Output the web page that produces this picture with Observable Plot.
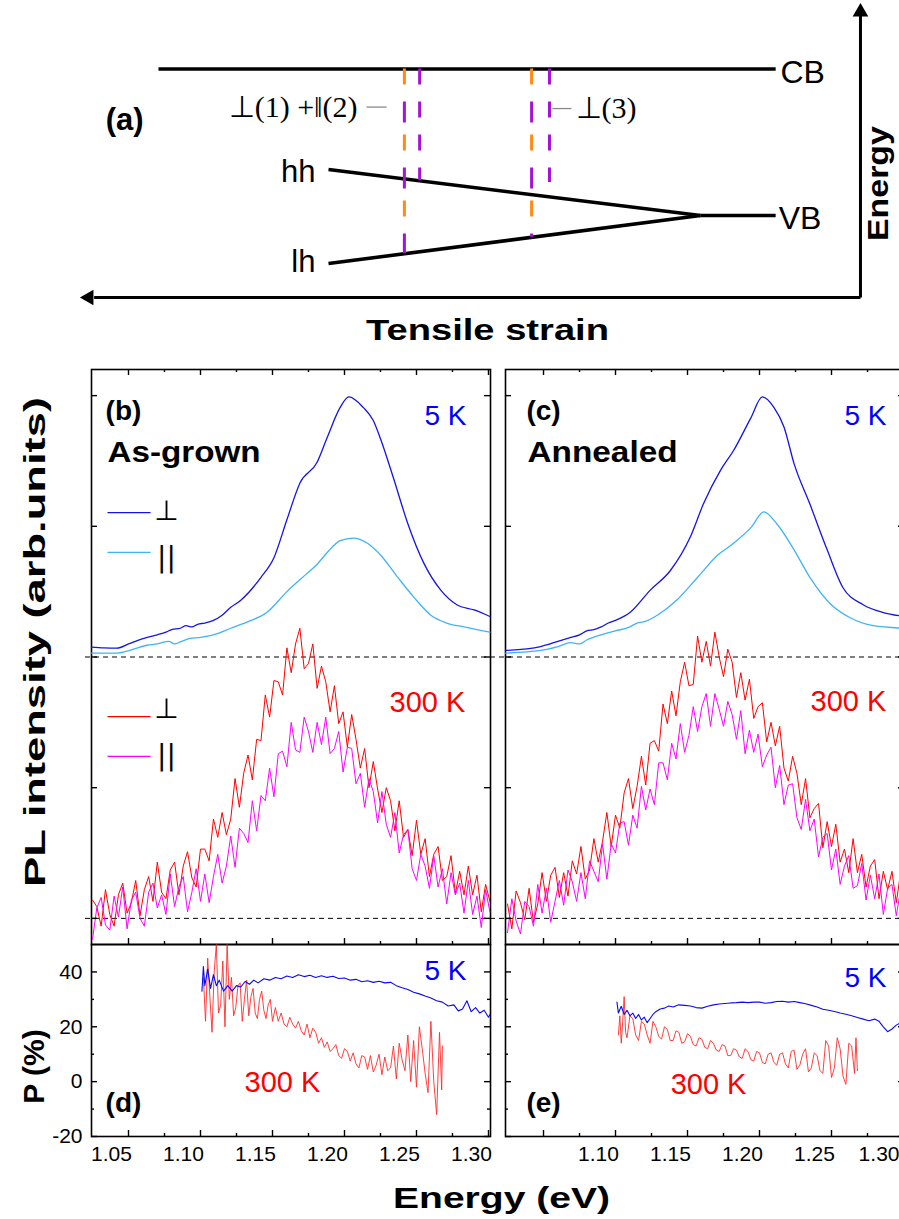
<!DOCTYPE html>
<html>
<head>
<meta charset="utf-8">
<script src="https://cdn.jsdelivr.net/npm/d3@7"></script>
<script src="https://cdn.jsdelivr.net/npm/@observablehq/plot@0.6"></script>
<style>
  html, body { margin: 0; padding: 0; background: #fff; }
  #fig { position: relative; width: 899px; height: 1219px; overflow: hidden; background: #fff; }
</style>
</head>
<body>
<div id="fig"></div>
<script>
// ---------------- ticks / categories ----------------
const xMajor = [1.05, 1.10, 1.15, 1.20, 1.25, 1.30];
const xMinor = [1.075, 1.125, 1.175, 1.225, 1.275];
const iTicks = [0, 1, 2, 3, 4];
const pMajor = [-20, 0, 20, 40];
const pMinor = [-10, 10, 30];
const xLabelsD = [1.05, 1.10, 1.15, 1.20, 1.25, 1.30];
const xLabelsE = [1.10, 1.15, 1.20, 1.25];
const xLabelsEEdge = [1.30];
const OFFSET_5K = 2; // 5 K spectra stacked above the 300 K spectra

// ---------------- panel (b): 5 K spectra (as-grown) ----------------
const E5b_perp = [1.0243,1.033,1.042,1.050,1.057,1.063,1.070,1.076,1.080,1.086,1.090,1.094,1.098,1.103,1.109,1.115,1.121,1.128,1.142,1.151,1.160,1.169,1.181,1.188,1.197,1.203,1.213,1.220,1.225,1.234,1.244,1.255,1.267,1.278,1.290,1.301];
const I5b_perp = [0.076,0.07,0.068,0.10,0.13,0.15,0.17,0.19,0.21,0.22,0.24,0.23,0.25,0.26,0.28,0.32,0.38,0.435,0.61,0.76,1.05,1.33,1.49,1.68,1.91,1.99,1.91,1.81,1.67,1.37,1.02,0.72,0.51,0.40,0.36,0.31];
const E5b_par = [1.0243,1.042,1.063,1.070,1.078,1.082,1.086,1.092,1.100,1.109,1.121,1.133,1.146,1.160,1.174,1.181,1.188,1.197,1.206,1.216,1.225,1.237,1.248,1.260,1.271,1.283,1.301];
const I5b_par = [0.03,0.03,0.09,0.10,0.12,0.10,0.115,0.14,0.15,0.17,0.22,0.27,0.34,0.50,0.64,0.71,0.80,0.89,0.91,0.87,0.78,0.61,0.46,0.32,0.26,0.23,0.19];

// ---------------- panel (c): 5 K spectra (annealed) ----------------
const E5c_perp = [1.0236,1.048,1.060,1.069,1.075,1.080,1.085,1.090,1.095,1.100,1.110,1.124,1.138,1.152,1.161,1.173,1.182,1.194,1.202,1.210,1.217,1.224,1.235,1.247,1.258,1.272,1.286,1.301];
const I5c_perp = [0.05,0.08,0.12,0.15,0.17,0.20,0.21,0.23,0.26,0.28,0.34,0.51,0.66,0.92,1.17,1.43,1.58,1.83,1.99,1.91,1.76,1.48,1.17,0.82,0.53,0.40,0.34,0.31];
const E5c_par = [1.0236,1.048,1.060,1.069,1.075,1.080,1.090,1.100,1.110,1.115,1.120,1.129,1.143,1.157,1.171,1.182,1.194,1.203,1.212,1.224,1.235,1.249,1.263,1.279,1.301];
const I5c_par = [0.03,0.05,0.08,0.11,0.10,0.13,0.17,0.20,0.23,0.26,0.27,0.32,0.44,0.61,0.78,0.87,0.99,1.11,1.02,0.82,0.61,0.41,0.30,0.24,0.22];

// ---------------- 300 K spectra (read on a 3 meV grid) ----------------
const E300 = d3.range(93).map(i => +(1.025 + 0.003 * i).toFixed(3));
const I300b_perp = [0.14,0.09,-0.06,0.22,0.03,-0.06,0.18,0.27,0.04,0.12, 0.29,0.02,0.22,0.32,0.13,0.43,0.20,0.15,0.37,0.43, 0.18,0.40,0.51,0.31,0.24,0.53,0.53,0.44,0.76,0.62, 0.81,0.64,0.76,1.07,0.85,1.11,1.25,1.06,1.37,1.36, 1.71,1.54,1.82,1.81,1.71,2.07,1.88,2.10,2.22,1.91, 1.95,2.10,1.76,1.93,1.81,1.58,1.78,1.49,1.58,1.31, 1.56,1.37,1.15,1.30,1.00,1.20,0.99,0.81,1.00,0.90, 0.67,0.90,0.62,0.68,0.48,0.75,0.49,0.61,0.32,0.49, 0.55,0.29,0.32,0.48,0.19,0.36,0.18,0.40,0.18,0.33, 0.05,0.26,0.13];
const I300b_par = [-0.16,0.08,0.16,-0.05,-0.09,0.17,0.01,0.24,-0.08,0.14, 0.20,0.00,-0.06,0.20,0.27,0.08,0.18,0.03,0.34,0.09, 0.24,0.32,0.05,0.20,0.38,0.13,0.34,0.12,0.32,0.49, 0.27,0.40,0.63,0.39,0.69,0.65,0.58,0.90,0.67,0.94, 0.90,1.15,0.93,1.26,1.28,1.16,1.50,1.29,1.27,1.54, 1.43,1.27,1.50,1.33,1.54,1.26,1.30,1.43,1.12,1.31, 1.30,1.03,1.11,0.85,1.07,0.97,0.73,0.97,0.72,0.62, 0.81,0.50,0.64,0.68,0.38,0.29,0.49,0.40,0.23,0.48, 0.24,0.38,0.11,0.35,0.18,0.27,0.04,0.29,0.03,0.17, -0.07,0.22,0.05];
const I300c_perp = [0.11,-0.08,0.21,0.12,-0.01,0.23,-0.03,0.11,0.35,0.13, 0.33,0.39,0.16,0.35,0.17,0.44,0.34,0.55,0.30,0.37, 0.61,0.43,0.59,0.81,0.55,0.79,0.69,0.96,1.07,0.84, 1.01,1.24,1.02,1.34,1.36,1.28,1.64,1.49,1.74,1.55, 1.81,1.96,1.78,1.79,2.16,1.96,2.12,1.93,2.19,2.00, 1.85,2.06,1.96,1.69,1.88,1.67,1.83,1.53,1.62,1.65, 1.35,1.50,1.32,1.47,1.15,1.05,1.24,1.11,0.87,1.07, 0.77,0.84,0.88,0.54,0.74,0.55,0.72,0.43,0.53,0.35, 0.61,0.35,0.49,0.24,0.40,0.45,0.15,0.36,0.22,0.36, 0.12,0.35,0.13];
const I300c_par = [-0.11,0.15,-0.02,-0.12,0.13,0.09,-0.06,0.26,0.04,0.23, -0.03,0.13,0.29,0.10,0.37,0.28,0.13,0.35,0.15,0.44, 0.36,0.28,0.57,0.30,0.57,0.50,0.73,0.74,0.56,0.79, 0.69,1.01,0.83,0.99,0.87,1.19,1.19,1.06,1.34,1.22, 1.49,1.27,1.40,1.62,1.43,1.62,1.72,1.47,1.72,1.60, 1.47,1.66,1.56,1.37,1.59,1.26,1.44,1.27,1.41,1.16, 1.25,1.31,1.00,1.17,0.87,1.02,1.03,0.77,0.68,0.91, 0.67,0.76,0.47,0.62,0.65,0.37,0.53,0.26,0.40,0.48, 0.23,0.25,0.42,0.14,0.33,0.15,0.34,0.03,0.23,0.26, 0.02,0.22,0.08];

// ---------------- panel (d): polarization degree, as-grown ----------------
const EPd_5K = [1.101,1.102,1.103,1.105,1.107,1.109,1.111,1.113,1.116,1.119, 1.122,1.125,1.128,1.131,1.134,1.137,1.140,1.144,1.148,1.152, 1.156,1.160,1.164,1.168,1.172,1.176,1.180,1.184,1.188,1.192, 1.196,1.200,1.204,1.208,1.212,1.216,1.220,1.224,1.228,1.232, 1.236,1.240,1.244,1.248,1.252,1.256,1.260,1.264,1.268,1.272, 1.276,1.279,1.282,1.285,1.288,1.291,1.294,1.297,1.300,1.301];
const Pd_5K = [33,42,35,41,34,39,35,37,33,35, 33,35,34.5,36.5,35.5,37,36,37.5,37,38, 37.5,38.5,38,39,38.3,38.8,38,38.6,38,38.4, 37.6,37.8,37,37.3,36.4,36.8,36.2,36.6,36,36.2, 35,34.2,33.6,32.6,32,31.2,30.5,29.5,29,27.6, 28,25.8,26.5,29.5,25.5,27,25,26,23.5,24.5];
const EPd_300 = [1.1020,1.1035,1.1050,1.1065,1.1080,1.1095,1.1110,1.1125,1.1140,1.1155, 1.1170,1.1185,1.1200,1.1215,1.1230,1.1245,1.1260,1.1275,1.1290,1.1305, 1.1320,1.1335,1.1350,1.1365,1.1380,1.1395,1.1410,1.1425,1.1440,1.1455, 1.1470,1.1485,1.1500,1.1520,1.1540,1.1560,1.1580,1.1600,1.1620,1.1640, 1.1660,1.1680,1.1700,1.1720,1.1740,1.1760,1.1780,1.1800,1.1820,1.1840, 1.1860,1.1880,1.1900,1.1920,1.1940,1.1960,1.1980,1.2000,1.2020,1.2040, 1.2060,1.2080,1.2100,1.2120,1.2140,1.2160,1.2180,1.2200,1.2220,1.2240, 1.2260,1.2280,1.2300,1.2320,1.2340,1.2360,1.2380,1.2400,1.2420,1.2440, 1.2460,1.2480,1.2500,1.2520,1.2540,1.2560,1.2580,1.2600,1.2620,1.2640, 1.2660,1.2675,1.2680];
const Pd_300 = [38,22,45,31,18,40,50,25,28,44, 20,50,30,38,24,27,35,36,22,30, 37,24,31,34,25,23,30,33,26,23, 28,30,22,27,22,25,21,20,23.5,21, 19.5,22,18.5,17,21,16,19.5,18,14,16, 12.5,14.5,11,12,13.5,9.5,8.5,12,11,7.5, 10.5,6.5,5,9.5,9,4.5,9.5,3.5,6,10, 2.5,9,4,5,13,1,14,8,4,17, 0,15,-2,20,12,3,-4,22,0,-12, 18,-3,13];

// ---------------- panel (e): polarization degree, annealed ----------------
const EPe_5K = [1.101,1.102,1.104,1.106,1.108,1.110,1.112,1.114,1.116,1.118, 1.120,1.122,1.124,1.126,1.128,1.131,1.134,1.137,1.140,1.144, 1.148,1.152,1.156,1.160,1.164,1.168,1.172,1.176,1.180,1.184, 1.188,1.192,1.196,1.200,1.204,1.208,1.212,1.216,1.220,1.224, 1.228,1.232,1.236,1.240,1.244,1.248,1.252,1.256,1.260,1.264, 1.268,1.272,1.276,1.280,1.283,1.286,1.289,1.292,1.295,1.298, 1.301];
const Pe_5K = [29,25,27.5,24.5,26,24,25,23,24.5,22.5, 23.5,21.5,23,24.5,25.5,26.5,26.8,27.6,27.2,28, 27.8,27.6,27,26.8,27.5,28,28.3,28.5,28.7,28.8, 29,28.8,29,29,28.6,28.8,29.2,29.3,29,29.2, 28.8,28.4,27.8,27.2,26.4,26,25.6,25,24.6,24, 23.4,22.8,22.2,22.8,22,20,18.2,19.2,20.6,21.5, 22];
const EPe_300 = [1.102,1.103,1.104,1.105,1.106,1.107,1.108,1.110,1.112,1.114, 1.116,1.118,1.120,1.122,1.124,1.126,1.128,1.130,1.132,1.134, 1.136,1.138,1.140,1.142,1.144,1.146,1.148,1.150,1.152,1.154, 1.156,1.158,1.160,1.162,1.164,1.166,1.168,1.170,1.172,1.174, 1.176,1.178,1.180,1.182,1.184,1.186,1.188,1.190,1.192,1.194, 1.196,1.198,1.200,1.202,1.204,1.206,1.208,1.210,1.212,1.214, 1.216,1.218,1.220,1.222,1.224,1.226,1.228,1.230,1.232,1.234, 1.236,1.238,1.240,1.242,1.244,1.246,1.248,1.250,1.252,1.254, 1.256,1.258,1.260,1.262,1.264,1.266,1.267,1.268];
const Pe_300 = [17,24,14,22,31,18,16,24,23,17, 15,22,21,17,14,22,20,16.5,15.5,20, 19,15,15,18.5,18,14,14.5,17.5,16.5,13.5, 13,16,15.5,12.5,12,15,14,11.5,11,13.5, 13,9.5,9.5,12,11.5,9,8.5,12,11,8, 7.5,11,10.5,7,6.5,10,10.5,7,6,10, 10.5,6.5,5,11,11.5,4.5,6,10,12,3.5, 5,10.5,9.5,4,3,15,13,1.5,5,16, 12,2,-1,14,13,3,16,4];

// ---------------- panel (a): schematic (strain s, 0 = band crossing; energy E, 0 = VB) ----------------
const bandNames = ["CB", "hh", "lh", "VB"];
const bandS1 = [14.57, 10, 10, 0];
const bandE1 = [10, 3.14, -3.28, 0];
const bandS2 = [-2.02, 0, 0, -2.02];
const bandE2 = [10, 0, 0, 0];
const mixedS = [7.96, 4.54];          // orange + purple transitions CB -> lh
const mixedBottom = [-2.61, -1.49];
const purpleS = [7.55, 4.06];         // purple transitions CB -> hh
const purpleBottom = [2.37, 2.25];
const CB_E = 10;

// ---------------- colours ----------------
const C = {
  perp5: "#1414e6", par5: "#3fb3f7", perp300: "#ff0000", par300: "#ff00ff",
  blue: "#0000ff", red: "#ff0000", P5: "#0a0af0", P300: "#ff2b2b",
  orange: "#ff8a14", purple: "#a312d6"
};

const rows = (xs, ys) => xs.map((E, i) => ({E, v: ys[i]}));
const FONT = "'Liberation Sans', Arial, Helvetica, sans-serif";
const SERIF = "'Liberation Serif', 'Times New Roman', serif";
const place = (left, top) =>
  `position:absolute;left:${left}px;top:${top}px;overflow:visible;background:transparent;font-family:${FONT};`;

const stretchTo = {
  "PL intensity (arb.units)": 490, "Energy (eV)": 217, "Tensile strain": 243,
  "Energy": 115, "As-grown": 153, "Annealed": 150
};
function stretch(svg) {
  svg.querySelectorAll("text").forEach(t => {
    const w = stretchTo[t.textContent];
    if (w) { t.setAttribute("textLength", w); t.setAttribute("lengthAdjust", "spacingAndGlyphs"); }
  });
  return svg;
}
// one text mark per label so anchor / weight / colour can differ
const labels = (list, xk, yk) => list.map(d => Plot.text([d], {
  x: xk, y: yk, text: "t", textAnchor: d.a, lineAnchor: "middle",
  fontSize: d.size, fontWeight: d.w, fill: d.c || "black",
  fontFamily: d.f || FONT, rotate: d.r || 0
}));

function frameTicks(W, H, {yMaj, yMin = [], top = true}) {
  const sw = 1.4, L = 6, l = 3;
  const m = [
    Plot.tickX(xMajor, {x: d => d, insetTop: H - L, strokeWidth: sw}),
    Plot.tickX(xMinor, {x: d => d, insetTop: H - l, strokeWidth: sw}),
    Plot.tickY(yMaj, {y: d => d, insetRight: W - L, strokeWidth: sw}),
    Plot.tickY(yMaj, {y: d => d, insetLeft: W - L, strokeWidth: sw})
  ];
  if (yMin.length) {
    m.push(Plot.tickY(yMin, {y: d => d, insetRight: W - l, strokeWidth: sw}));
    m.push(Plot.tickY(yMin, {y: d => d, insetLeft: W - l, strokeWidth: sw}));
  }
  if (top) {
    m.push(Plot.tickX(xMajor, {x: d => d, insetBottom: H - L, strokeWidth: sw}));
    m.push(Plot.tickX(xMinor, {x: d => d, insetBottom: H - l, strokeWidth: sw}));
  }
  return m;
}

const fig = document.getElementById("fig");
const W = 399, HS = 575, HP = 192;
const xDomL = [1.0243, 1.3014], xDomR = [1.0236, 1.3007];

// ---------- panel (a) ----------
const bands = bandNames.map((n, i) => ({n, s1: bandS1[i], E1: bandE1[i], s2: bandS2[i], E2: bandE2[i]}));
const mixed = mixedS.map((s, i) => ({s, top: CB_E, bottom: mixedBottom[i]}));
const purples = purpleS.map((s, i) => ({s, top: CB_E, bottom: purpleBottom[i]}));
const axisLines = [
  {s1: -4.30, E1: -5.60, s2: 16.30, E2: -5.60},   // tensile strain axis
  {s1: -4.30, E1: -5.60, s2: -4.30, E2: 13.70}    // energy axis
];
const axisHeads = [
  {s: 16.44, E: -5.60, rot: -90},
  {s: -4.30, E: 13.89, rot: 0}
];
const leaders = [{s1: 8.98, s2: 8.44, E: 7.40}, {s1: 3.98, s2: 3.47, E: 7.30}];
const aTexts = [
  {t: "CB", s: -2.15, E: 9.76, a: "start", size: 32, w: "normal"},
  {t: "VB", s: -2.10, E: -0.20, a: "start", size: 32, w: "normal"},
  {t: "hh", s: 10.35, E: 2.94, a: "end", size: 31, w: "normal"},
  {t: "lh", s: 10.35, E: -3.21, a: "end", size: 31, w: "normal"},
  {t: "(a)", s: 15.48, E: 6.48, a: "middle", size: 31, w: "bold"},
  {t: "Tensile strain", s: 5.726, E: -7.85, a: "middle", size: 30, w: "bold"},
  {t: "Energy", s: -4.785, E: 2.18, a: "middle", size: 30, w: "bold", r: -90},
  {t: "⊥(1) +‖(2)", s: 9.22, E: 7.37, a: "end", size: 30, w: "normal", f: SERIF},
  {t: "⊥(3)", s: 3.36, E: 7.30, a: "start", size: 30, w: "normal", f: SERIF}
];

const plotA = Plot.plot({
  width: 899, height: 350, margin: 0, style: place(0, 0),
  x: {domain: [18.817, -5.349], axis: null},
  y: {domain: [-9.215, 14.676], axis: null},
  marks: [
    Plot.link(bands, {x1: "s1", y1: "E1", x2: "s2", y2: "E2", stroke: "black", strokeWidth: 3.6}),
    Plot.ruleX(mixed, {x: "s", y1: "top", y2: "bottom", stroke: C.orange, strokeWidth: 3, strokeDasharray: "16,50"}),
    Plot.ruleX(mixed, {x: "s", y1: "top", y2: "bottom", stroke: C.purple, strokeWidth: 3, strokeDasharray: "21,45", strokeDashoffset: 33}),
    Plot.ruleX(purples, {x: "s", y1: "top", y2: "bottom", stroke: C.purple, strokeWidth: 3, strokeDasharray: "16,17"}),
    Plot.link(axisLines, {x1: "s1", y1: "E1", x2: "s2", y2: "E2", stroke: "black", strokeWidth: 3}),
    Plot.dot(axisHeads, {x: "s", y: "E", symbol: "triangle", r: 5.8, fill: "black", stroke: "none", rotate: "rot"}),
    Plot.link(leaders, {x1: "s1", x2: "s2", y1: "E", y2: "E", stroke: "#8a8a8a", strokeWidth: 1.3}),
    ...labels(aTexts, "s", "E")
  ]
});
fig.append(stretch(plotA));

// ---------- spectra panels (b), (c) ----------
function spectra({left, xDomain, perp5, par5, perp300, par300, texts, legend, yLabel}) {
  const marks = [
    Plot.frame({stroke: "black", strokeWidth: 1.6}),
    Plot.ruleY([0, OFFSET_5K], {y: d => d, stroke: "black", strokeWidth: 1, strokeDasharray: "5,4", insetLeft: -6, insetRight: -6}),
    Plot.line(perp300, {x: "E", y: "v", stroke: C.perp300, strokeWidth: 1}),
    Plot.line(par300, {x: "E", y: "v", stroke: C.par300, strokeWidth: 1}),
    Plot.line(par5, {x: "E", y: d => d.v + OFFSET_5K, stroke: C.par5, strokeWidth: 1.3, curve: "monotone-x"}),
    Plot.line(perp5, {x: "E", y: d => d.v + OFFSET_5K, stroke: C.perp5, strokeWidth: 1.3, curve: "monotone-x"}),
    ...frameTicks(W, HS, {yMaj: iTicks}),
    ...labels(texts, "E", "y")
  ];
  if (legend) {
    marks.push(Plot.link(legend, {x1: "E1", x2: "E2", y1: "y", y2: "y", stroke: "c", strokeWidth: 1.3}));
    marks.push(Plot.text(legend, {x: "Es", y: "ys", text: "sym", fontSize: 28, lineAnchor: "middle", fontFamily: "'DejaVu Sans', sans-serif"}));
  }
  if (yLabel) {
    marks.push(Plot.text([yLabel], {frameAnchor: "left", dx: -56, dy: -15, rotate: -90, text: d => d, textAnchor: "middle", lineAnchor: "middle", fontSize: 30, fontWeight: "bold"}));
  }
  return Plot.plot({
    width: W, height: HS, margin: 0, style: place(left, 369),
    x: {domain: xDomain, axis: null},
    y: {domain: [-0.2, 4.2], axis: null},
    marks
  });
}

const legendB = [
  {E1: 1.0354, E2: 1.0653, y: 3.105, c: C.perp5, Es: 1.0764, ys: 3.12, sym: "⊥"},
  {E1: 1.0354, E2: 1.0653, y: 2.80, c: C.par5, Es: 1.0764, ys: 2.76, sym: "||"},
  {E1: 1.0354, E2: 1.0653, y: 1.544, c: C.perp300, Es: 1.0764, ys: 1.60, sym: "⊥"},
  {E1: 1.0354, E2: 1.0653, y: 1.239, c: C.par300, Es: 1.0764, ys: 1.24, sym: "||"}
];
const textsB = [
  {t: "(b)", E: 1.0465, y: 3.885, a: "middle", size: 28, w: "bold"},
  {t: "As-grown", E: 1.0354, y: 3.564, a: "start", size: 30, w: "bold"},
  {t: "5 K", E: 1.2701, y: 3.847, a: "middle", size: 28, w: "normal", c: C.blue},
  {t: "300 K", E: 1.2576, y: 1.652, a: "middle", size: 29, w: "normal", c: C.red}
];
const textsC = [
  {t: "(c)", E: 1.0500, y: 3.885, a: "middle", size: 28, w: "bold"},
  {t: "Annealed", E: 1.0389, y: 3.564, a: "start", size: 30, w: "bold"},
  {t: "5 K", E: 1.2736, y: 3.847, a: "middle", size: 28, w: "normal", c: C.blue},
  {t: "300 K", E: 1.2618, y: 1.66, a: "middle", size: 29, w: "normal", c: C.red}
];

fig.append(stretch(spectra({
  left: 91, xDomain: xDomL,
  perp5: rows(E5b_perp, I5b_perp), par5: rows(E5b_par, I5b_par),
  perp300: rows(E300, I300b_perp), par300: rows(E300, I300b_par),
  texts: textsB, legend: legendB, yLabel: "PL intensity (arb.units)"
})));
fig.append(stretch(spectra({
  left: 505, xDomain: xDomR,
  perp5: rows(E5c_perp, I5c_perp), par5: rows(E5c_par, I5c_par),
  perp300: rows(E300, I300c_perp), par300: rows(E300, I300c_par),
  texts: textsC
})));

// ---------- polarization panels (d), (e) ----------
function polar({left, xDomain, p5, p300, texts, xLabels, xEdge = [], yLabels, extra = []}) {
  const marks = [
    Plot.frame({stroke: "black", strokeWidth: 1.6}),
    Plot.line(p300, {x: "E", y: "v", stroke: C.P300, strokeWidth: 0.9}),
    Plot.line(p5, {x: "E", y: "v", stroke: C.P5, strokeWidth: 1.1}),
    ...frameTicks(W, HP, {yMaj: pMajor, yMin: pMinor, top: false}),
    Plot.text(xLabels, {x: d => d, frameAnchor: "bottom", dy: 18, dx: -17, text: d => d.toFixed(2), textAnchor: "middle", lineAnchor: "middle", fontSize: 21}),
    Plot.text(xEdge, {x: d => d, frameAnchor: "bottom", dy: 18, dx: -4, text: d => d.toFixed(2), textAnchor: "end", lineAnchor: "middle", fontSize: 21}),
    ...labels(texts, "E", "y"),
    ...extra
  ];
  if (yLabels) {
    marks.push(Plot.text(pMajor, {y: d => d, frameAnchor: "left", dx: -9, textAnchor: "end", lineAnchor: "middle", text: d => String(d), fontSize: 21}));
  }
  return Plot.plot({
    width: W, height: HP, margin: 0, style: place(left, 944),
    x: {domain: xDomain, axis: null},
    y: {domain: [-20, 50], axis: null},
    marks
  });
}

const textsD = [
  {t: "(d)", E: 1.0465, y: -7.97, a: "middle", size: 28, w: "bold"},
  {t: "5 K", E: 1.2701, y: 40.16, a: "middle", size: 28, w: "normal", c: C.blue},
  {t: "300 K", E: 1.1569, y: -0.31, a: "middle", size: 29, w: "normal", c: C.red}
];
const textsE = [
  {t: "(e)", E: 1.0500, y: -7.97, a: "middle", size: 28, w: "bold"},
  {t: "5 K", E: 1.2736, y: 37.6, a: "middle", size: 28, w: "normal", c: C.blue},
  {t: "300 K", E: 1.1646, y: -1.04, a: "middle", size: 29, w: "normal", c: C.red}
];

fig.append(stretch(polar({
  left: 91, xDomain: xDomL, p5: rows(EPd_5K, Pd_5K), p300: rows(EPd_300, Pd_300),
  texts: textsD, xLabels: xLabelsD, yLabels: true,
  extra: [
    Plot.text(["P (%)"], {frameAnchor: "left", dx: -57, dy: 26, rotate: -90, text: d => d, textAnchor: "middle", lineAnchor: "middle", fontSize: 30, fontWeight: "bold"}),
    Plot.text(["Energy (eV)"], {frameAnchor: "bottom", dx: 210.5, dy: 62, text: d => d, textAnchor: "middle", lineAnchor: "middle", fontSize: 30, fontWeight: "bold"})
  ]
})));
fig.append(stretch(polar({
  left: 505, xDomain: xDomR, p5: rows(EPe_5K, Pe_5K), p300: rows(EPe_300, Pe_300),
  texts: textsE, xLabels: xLabelsE, xEdge: xLabelsEEdge, yLabels: false
})));
</script>
</body>
</html>
